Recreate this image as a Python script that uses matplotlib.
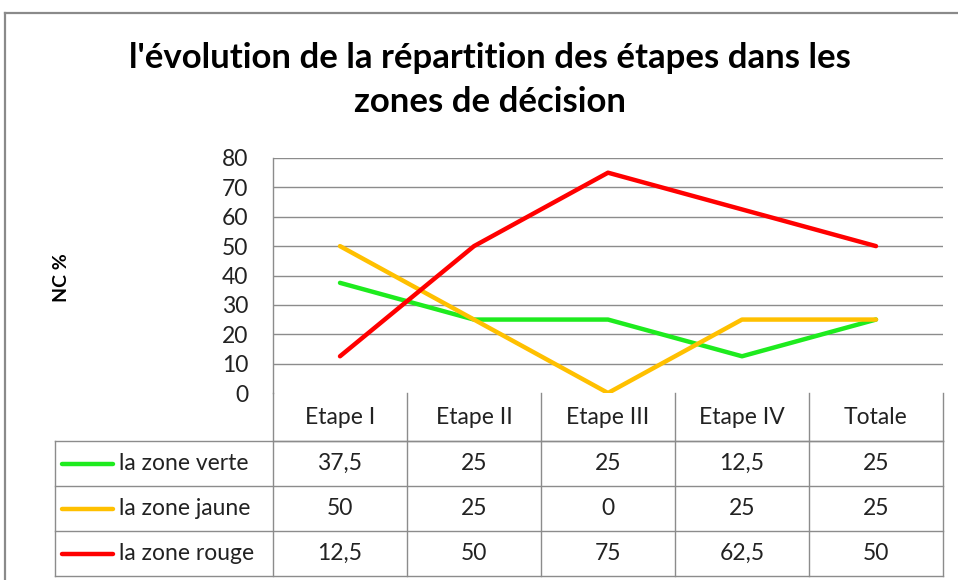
import matplotlib
matplotlib.use("Agg")
import matplotlib.pyplot as plt
from matplotlib.lines import Line2D

# Data
categories = ["Etape I", "Etape II", "Etape III", "Etape IV", "Totale"]
series_names = ["la zone verte", "la zone jaune", "la zone rouge"]
verte = [37.5, 25, 25, 12.5, 25]
jaune = [50, 25, 0, 25, 25]
rouge = [12.5, 50, 75, 62.5, 50]
series_colors = ["#1EEB1E", "#FFC000", "#FF0000"]
y_ticks = [0, 10, 20, 30, 40, 50, 60, 70, 80]

FONT = ["Lato", "DejaVu Sans"]
GRID = "#8C8C8C"
TXT = "#222222"
FS = 16.5
W, H = 958, 580

fig = plt.figure(figsize=(W / 100, H / 100), dpi=100)

# outer chart border (cut on the right and bottom)
fig.add_artist(Line2D([5 / W, 1], [1 - 13 / H, 1 - 13 / H], color="#8A8A8A", lw=1.6))
fig.add_artist(Line2D([5 / W, 5 / W], [0, 1 - 13 / H], color="#8A8A8A", lw=1.6))

# title
fig.text(490 / W, 1 - 58 / H, "l'évolution de la répartition des étapes dans les",
         ha="center", va="center", fontsize=25, fontweight="bold", family=FONT)
fig.text(490 / W, 1 - 102 / H, "zones de décision",
         ha="center", va="center", fontsize=25, fontweight="bold", family=FONT)

# plot area
x0, x1, ytop, ybot = 273, 943, 158, 393
ax = fig.add_axes([x0 / W, 1 - ybot / H, (x1 - x0) / W, (ybot - ytop) / H])
xs = list(range(len(categories)))
for vals, c in zip([verte, jaune, rouge], series_colors):
    ax.plot(xs, vals, color=c, lw=3.2, solid_capstyle="round", zorder=3)

ax.set_xlim(-0.5, len(categories) - 0.5)
ax.set_ylim(0, 80)
ax.set_yticks(y_ticks)
ax.set_yticklabels([str(t) for t in y_ticks], fontsize=FS, family=FONT, color=TXT)
ax.tick_params(axis="y", length=0, pad=18)
ax.set_xticks([])
for t in y_ticks[1:]:
    ax.axhline(t, color=GRID, lw=1, zorder=1)
for s in ["top", "right", "bottom"]:
    ax.spines[s].set_visible(False)
ax.spines["left"].set_color(GRID)
ax.spines["left"].set_linewidth(1)
fig.text(62 / W, 1 - 278 / H, "NC %", rotation=90, ha="center", va="center",
         fontsize=14, fontweight="bold", family=FONT)

# data table below the axes (x in data units, y in axes fraction)
tr = ax.get_xaxis_transform()
ph = ybot - ytop
hdr = 48 / ph
row = 45 / ph
left = -0.5 - (x0 - 55) / ((x1 - x0) / len(categories))
kw = dict(transform=tr, clip_on=False, color=GRID, lw=1)

y_hdr_bot = -hdr
y_rows = [y_hdr_bot - row * i for i in range(len(series_names) + 1)]

# header row
ax.plot([-0.5, len(categories) - 0.5], [y_hdr_bot, y_hdr_bot], **kw)
ax.plot([len(categories) - 0.5, len(categories) - 0.5], [0, y_rows[-1]], **kw)
for i in range(len(categories)):
    ax.plot([i - 0.5, i - 0.5], [0, y_rows[-1]], **kw)
    ax.text(i, -hdr / 2, categories[i], transform=tr, ha="center", va="center",
            fontsize=FS, family=FONT, color=TXT)
# body rows
for y in y_rows:
    ax.plot([left, len(categories) - 0.5], [y, y], **kw)
ax.plot([left, left], [y_hdr_bot, y_rows[-1]], **kw)

for r, (name, vals, c) in enumerate(zip(series_names, [verte, jaune, rouge], series_colors)):
    yc = y_hdr_bot - row * (r + 0.5)
    ax.plot([left + 0.05, left + 0.43], [yc, yc], color=c, lw=3.2, transform=tr,
            clip_on=False, solid_capstyle="round")
    ax.text(left + 0.48, yc, name, transform=tr, ha="left", va="center",
            fontsize=FS, family=FONT, color=TXT)
    for i, v in enumerate(vals):
        txt = ("%g" % v).replace(".", ",")
        ax.text(i, yc, txt, transform=tr, ha="center", va="center",
                fontsize=FS, family=FONT, color=TXT)

fig.savefig("out.png", dpi=100)
